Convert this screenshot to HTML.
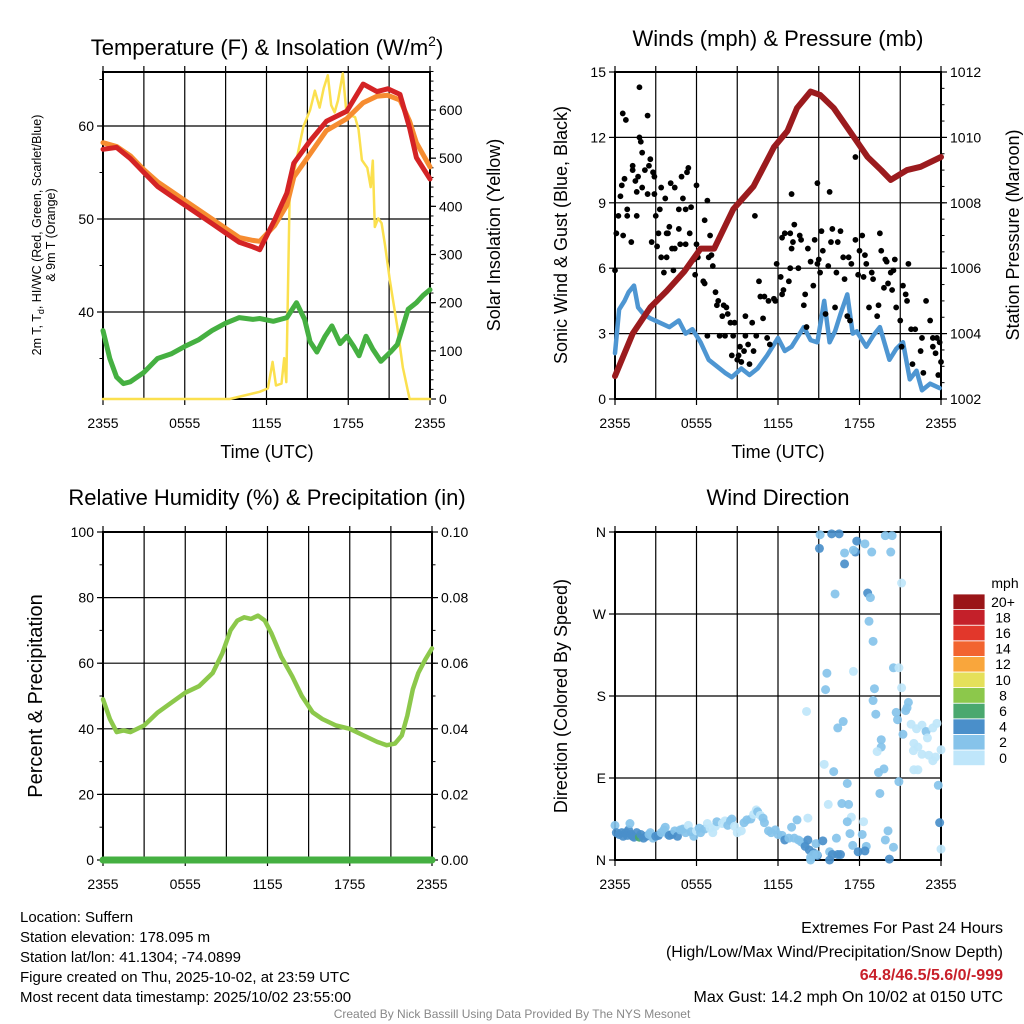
<!DOCTYPE html>
<html><head><meta charset="utf-8"><style>
html,body{margin:0;padding:0;background:#fff}
svg{display:block;font-family:"Liberation Sans",sans-serif}
</style></head><body>
<svg id="c" width="1024" height="1024" viewBox="0 0 1024 1024" xmlns="http://www.w3.org/2000/svg"></svg>
<script>
// ---------- DATA ----------
const hourTickLabels = ["2355","0555","1155","1755","2355"];
const tempTime = [0,1,2,3,4,5,6,7,8,9,10,11,11.5,12.6,13.5,14,15.2,16.4,17.9,19.1,20.1,20.9,21.8,22.5,23,24];
const tempRed = [57.5,57.7,56.5,55,53.5,52.5,51.5,50.5,49.5,48.5,47.5,47,46.7,49.9,52.8,56,58.4,60.5,61.6,64.5,63.7,64,63.4,59.8,56.6,54.3];
const tempOrange = [58.2,57.8,56.8,55.3,54,53,52,51,50,49,48,47.7,47.6,49.3,51.5,54.5,57,59.5,60.8,62.5,63.2,63.3,62.8,60.5,58.2,55.6];
const dewTime = [0,0.5,1,1.5,2,3,4,5,6,7,8,9,10,11,11.5,12.5,13.5,14.2,14.8,15.2,15.7,16.3,16.8,17.4,17.9,18.4,18.8,19.3,19.8,20.4,21.1,21.6,21.9,22.4,23,23.5,24];
const dewVal = [38,35,33,32.3,32.5,33.5,35,35.5,36.3,37,38,38.8,39.4,39.2,39.3,39,39.4,41,39.2,36.8,35.7,37.4,38.5,36.6,37.4,36.3,35.3,37.4,36,34.7,35.7,36.5,37.9,40.3,41,41.8,42.4];
const insTime = [0,9.3,11.5,12.1,12.45,12.7,13.1,13.3,13.45,13.7,14.45,14.7,15.2,15.55,15.9,16.2,16.5,16.75,17.0,17.25,17.6,17.85,18.1,18.5,18.75,19.0,19.4,19.65,19.8,19.95,20.2,20.45,20.7,21.05,21.6,22.0,22.5,24];
const insVal = [0,0,15,22,77,28,32,85,35,427,531,565,600,640,605,645,672,610,595,620,676,600,590,585,560,496,480,440,495,357,375,365,320,247,150,66,0,0];
const windTime = [0,0.3,0.7,1,1.4,1.7,2.1,2.6,3.3,4,4.7,5.2,5.7,6.3,6.9,7.5,8.1,8.6,9.3,9.9,10.5,11.2,12,12.5,13,13.5,13.9,14.4,14.9,15.4,15.8,16.2,16.6,17.1,17.5,17.8,18.5,19,19.5,20.2,20.7,21.2,21.7,22.2,22.6,23.2,23.9];
const windVal = [2.1,4.1,4.5,4.9,5.2,4.2,3.9,3.7,3.5,3.3,3.6,3.0,3.2,2.6,1.8,1.5,1.2,1.0,1.4,1.1,1.4,2.0,2.8,2.2,2.4,2.9,3.3,2.7,2.6,4.5,2.6,3.1,3.9,4.8,3.0,3.1,2.4,2.9,3.3,1.8,2.3,2.6,0.9,1.3,0.4,0.7,0.5];
const presTime = [0,1.3,2.6,3.8,5.1,6.3,7.3,8.7,10.2,11.7,12.7,13.4,14.4,15.1,16.1,17.6,18.6,19.6,20.3,21.5,22.5,24];
const presVal = [1002.7,1004.0,1004.8,1005.3,1005.9,1006.6,1006.6,1007.8,1008.5,1009.7,1010.2,1010.9,1011.4,1011.3,1010.9,1010.0,1009.4,1009.0,1008.7,1009.0,1009.1,1009.4];
const gustTime = [0,0.1,0.25,0.4,0.5,0.6,0.57,0.8,0.7,0.9,0.9,1.2,1.3,1.3,1.5,1.6,1.6,1.7,1.8,1.8,1.9,2.0,2.0,2.2,2.4,2.4,2.5,2.6,2.7,2.8,2.9,2.9,3.0,3.1,3.2,3.3,3.4,3.4,3.7,3.6,3.8,3.8,3.9,4.0,4.1,4.2,4.3,4.4,4.4,4.7,4.7,4.8,4.9,5.0,5.2,5.2,5.3,5.4,5.5,5.6,5.8,5.9,6.0,6.0,6.1,6.5,6.6,6.6,6.8,6.8,6.9,7.0,7.1,7.2,7.4,7.5,7.6,7.7,7.9,8.0,8.1,8.2,8.3,8.5,8.6,8.7,8.8,9.0,9.1,9.2,9.3,9.5,9.6,9.6,9.8,9.9,10.1,10.2,10.3,10.4,10.6,10.7,10.9,11.0,11.2,11.3,11.4,11.7,11.8,11.9,12.2,12.3,12.3,12.4,12.5,12.8,12.9,12.9,13.0,13.0,13.1,13.2,13.5,13.6,13.7,13.9,14.0,14.1,14.2,14.4,14.6,14.7,14.9,14.9,15.0,15.1,15.2,15.3,15.5,15.7,15.8,15.9,16.0,16.2,16.3,16.4,16.6,16.8,16.9,17.1,17.2,17.3,17.4,17.7,17.7,17.9,18.0,18.2,18.3,18.4,18.5,18.7,18.9,19.0,19.3,19.4,19.5,19.6,19.8,19.9,20.0,20.1,20.3,20.4,20.5,20.6,20.7,21.0,21.1,21.2,21.4,21.5,21.6,21.8,21.9,22.1,22.5,22.6,22.7,22.9,23.2,23.4,23.4,23.6,23.7,23.8,23.9,24.0];
const gustVal = [5.9,7.6,8.4,9.3,9.8,7.5,13.1,12.8,10.1,8.7,8.4,7.2,10.5,10.7,10.0,9.5,8.4,10.2,14.3,12.0,11.8,9.7,11.3,10.5,13.0,9.4,10.7,11.0,7.2,10.4,9.4,10.2,8.4,7.0,7.6,8.7,6.5,9.7,9.2,5.8,6.5,7.6,7.6,7.9,9.9,6.9,5.9,9.7,6.9,7.8,8.7,7.1,10.2,9.2,8.7,7.1,10.4,10.6,7.6,8.8,6.4,5.7,9.8,7.1,6.5,5.4,8.2,5.3,9.1,2.9,6.5,7.5,6.6,6.1,4.9,4.3,4.5,2.9,3.8,4.3,2.9,4.2,3.9,3.5,2.0,2.9,3.5,1.8,2.0,2.4,1.7,2.2,2.9,3.8,2.5,1.6,3.5,2.2,8.4,2.9,5.4,4.7,3.7,4.7,2.8,4.5,2.5,4.6,4.5,6.2,5.6,4.8,7.4,5.0,7.6,5.4,6.0,7.6,9.4,6.9,7.2,8.0,6.0,7.5,7.3,4.3,4.8,3.3,6.9,6.3,5.2,7.3,6.2,9.9,6.4,5.8,7.7,6.8,3.9,6.1,9.5,7.2,7.8,4.2,5.8,7.2,7.7,6.5,5.5,3.8,6.5,3.6,6.2,11.1,7.3,5.7,6.8,7.5,5.6,6.6,6.2,4.2,5.8,5.5,3.8,4.3,7.6,6.8,5.1,6.4,6.3,5.3,5.8,5.0,5.9,6.4,4.2,3.6,2.4,5.2,4.8,4.5,6.2,3.2,1.6,3.2,2.2,2.8,1.2,4.5,3.6,2.4,2.8,2.1,2.8,1.1,2.6,1.7];
const rhTime = [0,0.5,1,1.5,2,3,4,5,6,7,8,8.7,9.3,9.8,10.3,10.8,11.3,11.8,12.3,13,13.8,14.5,15.3,16,17,18,19,20,20.7,21.3,21.8,22.2,22.6,23,23.5,24];
const rhVal = [49,43,39,39.5,39,41,45,48,51,53,57,63,70,73,74,73.5,74.5,73,69,62,56,50,45,43,41,40,38,36,35,35.5,38,44,52,57,61,64.5];
const precipTime = [0,24];
const precipVal = [0,0];
const dirTime = [0,0.1,0.3,0.5,0.6,0.8,0.9,1.0,1.1,1.2,1.3,1.4,1.6,1.8,1.9,2.1,2.3,2.5,2.6,2.8,3.0,3.2,3.4,3.6,3.7,3.9,4.0,4.2,4.4,4.6,4.8,5.0,5.2,5.4,5.6,5.8,6.0,6.2,6.3,6.6,6.8,7.0,7.2,7.4,7.5,7.9,8.1,8.3,8.5,8.6,8.8,9.0,9.3,9.5,9.7,10.0,10.2,10.4,10.5,10.7,10.9,11.0,11.3,11.5,11.8,12.0,12.3,12.5,12.8,13.0,13.2,13.5,13.7,13.9,14.0,14.2,14.3,14.4,14.6,14.8,14.9,15.05,15.1,15.95,16.5,16.2,16.9,16.9,17.7,17.8,17.55,18.4,18.9,18.6,18.8,18.7,19.0,19.9,20.4,20.3,21.1,20.5,20.9,21.1,19.1,19.0,19.2,15.6,15.5,17.55,14.1,16.8,16.4,19.6,19.6,19.3,19.4,19.8,20.7,20.8,21.4,21.6,21.5,21.2,21.8,22.2,22.6,22.9,23.0,23.4,23.7,22.0,22.3,21.97,22.6,23.1,23.6,24.0,22.0,22.3,23.4,15.4,16.1,17.1,19.5,20.9,23.8,15.7,16.7,17.2,17.4,17.1,18.3,17.3,18.2,20.1,19.9,20.5,17.5,18.5,18.4,17.9,20.2,16.3,15.8,16.0,16.4,16.6,15.8,14.4,14.6,14.85,15.3,23.9,24.0,14.2,13.4];
const dirVal = [38,30,28,30,26,30,27,33,40,28,26,25,30,25,28,24,26,28,30,24,26,27,30,33,36,28,27,28,32,26,33,34,30,38,31,26,32,35,30,34,40,35,30,37,42,40,43,38,43,45,37,30,32,41,44,45,50,55,53,49,46,41,32,30,33,28,27,22,24,36,24,22,20,18,15,22,11,3,8,18,5,342,357,358,358,292,337,325,338,350,340,347,338,293,288,262,240,356,356,338,304,211,211,189,188,175,160,205,187,207,163,152,145,132,124,119,96,100,162,154,164,173,167,138,149,144,148,141,134,145,150,128,124,120,116,115,113,121,99,99,109,105,97,84,73,86,82,61,62,61,47,42,42,29,28,32,22,14,16,15,10,9,1,24,9,6,6,6,0,0,6,6,21,41,12,46,44];
const dirSpeed = [3,5,5,5,5,5,5,5,3,5,5,5,5,7,5,5,5,3,3,3,5,5,3,3,3,3,5,5,3,5,3,3,3,1,3,3,1,3,3,3,1,1,1,1,3,1,1,3,3,3,1,1,1,3,3,3,1,1,3,1,3,3,3,3,3,3,3,5,3,3,3,3,3,3,5,5,5,3,5,3,5,5,3,5,5,3,3,5,5,5,3,3,3,5,3,3,3,3,3,3,1,3,1,1,3,3,3,3,3,1,1,3,3,3,3,1,3,3,3,3,3,3,3,3,1,1,1,3,1,1,1,1,1,1,1,1,1,1,1,1,1,1,3,3,3,3,3,1,3,3,1,3,1,3,3,3,3,3,3,3,5,5,5,3,3,5,5,5,5,3,3,3,5,5,1,1,3,3];
const speedColors = ["#bfe6fa","#86c3ea","#4a8fca","#4aa86e","#8cc84b","#e5e05a","#f9a63c","#f26430","#e2372b","#c4202a","#9a1518"];
const speedLabels = ["0","2","4","6","8","10","12","14","16","18","20+"];

// ---------- HELPERS ----------
const NS="http://www.w3.org/2000/svg";
const svg=document.getElementById('c');
function mk(tag,attrs,parent){const e=document.createElementNS(NS,tag);for(const k in attrs)e.setAttribute(k,attrs[k]);(parent||svg).appendChild(e);return e;}
function txt(s,x,y,size,anchor,extra){const e=mk('text',Object.assign({x:x,y:y,'font-size':size,'text-anchor':anchor||'start',fill:'#000'},extra||{}));e.textContent=s;return e;}
function lin(d0,d1,r0,r1){return v=>r0+(v-d0)/(d1-d0)*(r1-r0);}
function pathD(xs,ys,fx,fy){return xs.map((t,i)=>(i?'L':'M')+fx(t).toFixed(1)+','+fy(ys[i]).toFixed(1)).join('');}

function panel(x0,x1,y0,y1,hlines,name){
  const g=mk('g',{});
  
  
  const fx=lin(0,24,x0,x1);
  for(let h=3;h<24;h+=3){const l=mk('line',{x1:fx(h),x2:fx(h),y1:y0,y2:y1,stroke:'#000','stroke-width':1.2},g);}
  hlines.forEach(y=>{const l=mk('line',{x1:x0,x2:x1,y1:y,y2:y,stroke:'#000','stroke-width':1.2},g);});
  const f=mk('rect',{x:x0,y:y0,width:x1-x0,height:y1-y0,fill:'none',stroke:'#000','stroke-width':2},g);
  
  hourTickLabels.forEach((s,i)=>{const h=i*6;const t=txt(s,fx(h),y1+29,14,'middle');
    mk('line',{x1:fx(h),x2:fx(h),y1:y1,y2:y1+6,stroke:'#000','stroke-width':1.2},g);});
  for(let h=0;h<=24;h+=3) mk('line',{x1:fx(h),x2:fx(h),y1:y0,y2:y0-6,stroke:'#000','stroke-width':1.2},g);
  return fx;
}
function yTicks(fy,vals,labels,x,side,size){
  vals.forEach((v,i)=>{const y=fy(v);
    mk('line',{x1:x,x2:x+(side<0?-6:6),y1:y,y2:y,stroke:'#000','stroke-width':1.2});
    const t=txt(labels[i],x+(side<0?-9:9),y+5,size||14,side<0?'end':'start');
    });
}
function minor(fy,from,to,step,x,side){for(let v=from;v<=to+1e-9;v+=step){const y=fy(v);mk('line',{x1:x,x2:x+side*3.5,y1:y,y2:y,stroke:'#000','stroke-width':1});}}
function series(xs,ys,fx,fy,color,w,name){const p=mk('path',{d:pathD(xs,ys,fx,fy),fill:'none',stroke:color,'stroke-width':w,'stroke-linejoin':'round','stroke-linecap':'round'});return p;}
function rotText(s,x,y,size,name){const t=txt(s,x,y,size,'middle',{transform:'rotate(-90 '+x+' '+y+')'});return t;}

// ---------- PANEL 1: temperature ----------
const p1x0=103,p1x1=430,p1y0=72,p1y1=399;
const fT=v=>312-(v-40)*9.3;
const fI=lin(0,600,399,110);
const fx1=panel(p1x0,p1x1,p1y0,p1y1,[fT(40),fT(50),fT(60)],'temperature-panel');
yTicks(fT,[40,50,60],["40","50","60"],p1x0,-1);
minor(fT,35,65,5,p1x0,-1);
yTicks(fI,[0,100,200,300,400,500,600],["0","100","200","300","400","500","600"],p1x1,1);
minor(fI,0,680,20,p1x1,1);
series(insTime,insVal,fx1,fI,'#fbe04e',2.5,'insolation-line');
series(dewTime,dewVal,fx1,fT,'#45b041',5,'dewpoint-line');
series(tempTime,tempOrange,fx1,fT,'#f68c30',5,'temp-9m-line');
series(tempTime,tempRed,fx1,fT,'#d42325',5,'temp-2m-line');
{const t=txt('',267,55,22,'middle');
 t.innerHTML='Temperature (F) &amp; Insolation (W/m<tspan dy="-9" font-size="14">2</tspan><tspan dy="9">)</tspan>';}
{const t=txt('Time (UTC)',267,458,18,'middle');}
{const x=41,y=235;const t=txt('',x,y,12.5,'middle',{transform:'rotate(-90 '+x+' '+y+')'});
 t.innerHTML='2m T, T<tspan dy="3" font-size="9">d</tspan><tspan dy="-3">, HI/WC (Red, Green, Scarlet/Blue)</tspan>';
 rotText('& 9m T (Orange)',55,235,12.5,'temperature-y-axis-title-line2');}
rotText('Solar Insolation (Yellow)',500,235,18,'insolation-y-axis-title');

// ---------- PANEL 2: winds ----------
const p2x0=615,p2x1=941,p2y0=72,p2y1=399;
const fW=lin(0,15,399,72);
const fP=lin(1002,1012,399,72);
const fx2=panel(p2x0,p2x1,p2y0,p2y1,[fW(3),fW(6),fW(9),fW(12)],'winds-panel');
yTicks(fW,[0,3,6,9,12,15],["0","3","6","9","12","15"],p2x0,-1);
yTicks(fP,[1002,1004,1006,1008,1010,1012],["1002","1004","1006","1008","1010","1012"],p2x1,1);
minor(fP,1002,1012,0.5,p2x1,1);
series(windTime,windVal,fx2,fW,'#4e96d2',4.5,'sonic-wind-line');
gustTime.forEach((t,i)=>{const c=mk('circle',{cx:fx2(t),cy:fW(gustVal[i]),r:2.9,fill:'#000'});
  
  });
series(presTime,presVal,fx2,fP,'#9b1b1e',6,'pressure-line');
{const t=txt('Winds (mph) & Pressure (mb)',778,46,22,'middle');}
{const t=txt('Time (UTC)',778,458,18,'middle');}
rotText('Sonic Wind & Gust (Blue, Black)',567,235,18,'wind-y-axis-title');
rotText('Station Pressure (Maroon)',1019,235,18,'pressure-y-axis-title');

// ---------- PANEL 3: humidity ----------
const p3x0=103,p3x1=432,p3y0=532,p3y1=860;
const fR=lin(0,100,860,532);
const fPr=lin(0,0.1,860,532);
const fx3=panel(p3x0,p3x1,p3y0,p3y1,[fR(20),fR(40),fR(60),fR(80)],'humidity-panel');
yTicks(fR,[0,20,40,60,80,100],["0","20","40","60","80","100"],p3x0,-1);
minor(fR,0,100,10,p3x0,-1);
yTicks(fPr,[0,0.02,0.04,0.06,0.08,0.1],["0.00","0.02","0.04","0.06","0.08","0.10"],p3x1,1);
minor(fPr,0,0.1,0.01,p3x1,1);
series(rhTime,rhVal,fx3,fR,'#8cc84b',4.5,'humidity-line');
series(precipTime,precipVal,fx3,fPr,'#45b041',7,'precipitation-line');
{const t=txt('Relative Humidity (%) & Precipitation (in)',267,505,22,'middle');}
rotText('Percent & Precipitation',42,696,20,'humidity-y-axis-title');

// ---------- PANEL 4: wind direction ----------
const p4x0=615,p4x1=941,p4y0=532,p4y1=860;
const fD=lin(0,360,860,532);
const fx4=panel(p4x0,p4x1,p4y0,p4y1,[fD(90),fD(180),fD(270)],'wind-direction-panel');
yTicks(fD,[0,90,180,270,360],["N","E","S","W","N"],p4x0,-1);
dirTime.forEach((t,i)=>{const idx=Math.min(10,Math.floor(dirSpeed[i]/2));
  const c=mk('circle',{cx:fx4(t),cy:fD(dirVal[i]),r:4.5,fill:speedColors[idx],'fill-opacity':0.92});
  
  });
{const t=txt('Wind Direction',778,505,22,'middle');}
rotText('Direction (Colored By Speed)',567,696,18,'direction-y-axis-title');
// colorbar
{const g=mk('g',{});
 const bx=953,bw=32,bt=594,bh=15.6;
 speedColors.forEach((c,i)=>{const y=bt+(10-i)*bh;mk('rect',{x:bx,y:y,width:bw,height:bh,fill:c,stroke:'#fff','stroke-width':0.8},g);
   const t=txt(speedLabels[i],1003,y+bh/2+5,14,'middle');});
 const m=txt('mph',1005,588,14,'middle');}

// ---------- FOOTER ----------
["Location: Suffern","Station elevation: 178.095 m","Station lat/lon: 41.1304; -74.0899","Figure created on Thu, 2025-10-02, at 23:59 UTC","Most recent data timestamp: 2025/10/02 23:55:00"].forEach((s,i)=>{
  const t=txt(s,20,922+i*20,15,'start');});
{let t=txt('Extremes For Past 24 Hours',1003,933,16,'end');
 t=txt('(High/Low/Max Wind/Precipitation/Snow Depth)',1003,957,16,'end');
 t=txt('64.8/46.5/5.6/0/-999',1003,980,16,'end',{fill:'#c8202a','font-weight':'bold'});
 t=txt('Max Gust: 14.2 mph On 10/02 at 0150 UTC',1003,1002,16,'end');
 t=txt('Created By Nick Bassill Using Data Provided By The NYS Mesonet',512,1018,12,'middle',{fill:'#888'});}
</script>
</body></html>
